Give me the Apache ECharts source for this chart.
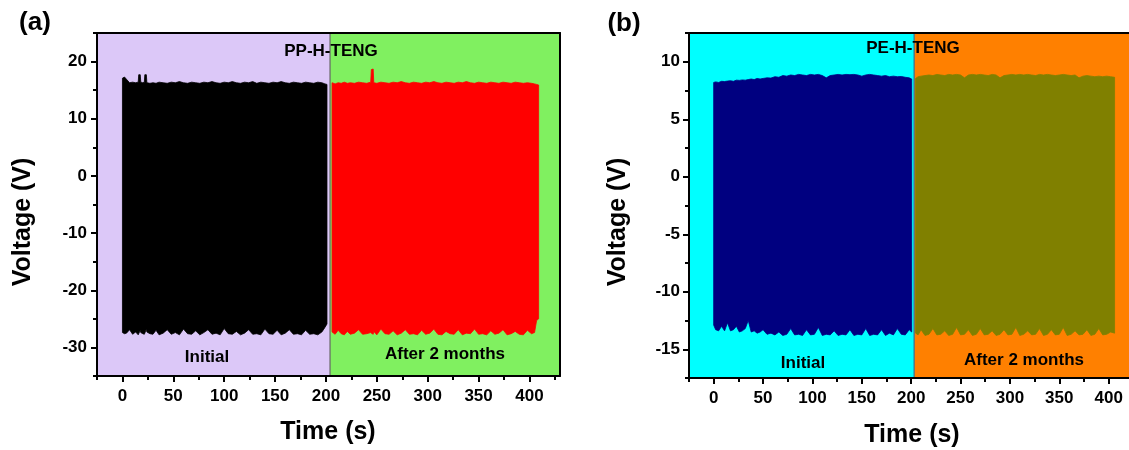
<!DOCTYPE html>
<html><head><meta charset="utf-8">
<script src="https://cdn.jsdelivr.net/npm/echarts@6/dist/echarts.min.js"></script>
<style>html,body{margin:0;padding:0;background:#fff;overflow:hidden}#c{width:1129px;height:450px}</style>
</head><body><div id="c"></div>
<script>
// ---------- data ----------
const xTicks = [0, 50, 100, 150, 200, 250, 300, 350, 400];
const xMinorTicks = [-25, 25, 75, 125, 175, 225, 275, 325, 375, 425];
const yTicksA = [-30, -20, -10, 0, 10, 20];
const yMinorA = [-35, -25, -15, -5, 5, 15, 25];
const yTicksB = [-15, -10, -5, 0, 5, 10];
const yMinorB = [-17.5, -12.5, -7.5, -2.5, 2.5, 7.5, 12.5];
const xRangeA = [-25, 430];
const xRangeB = [-25, 420.6];   // panel (b) is cut at the right edge of the picture
const yRangeA = [-35, 25];
const yRangeB = [-17.5, 12.5];
// phases (time ranges, s)
const phasesA = [[-25, 204], [204, 430]];
const phasesB = [[-25, 203], [203, 420.6]];
const phaseNames = ['Initial', 'After 2 months'];
// signal envelopes: [time (s), lower peak (V), upper peak (V)]
const ppInitial = [
 [0,-27.4,17.1],[2,-27.6,17.3],[4,-27.5,16.9],[7,-26.9,16.3],[10,-27.7,16.4],[13,-27.3,16.3],
 [15.5,-27.8,16.4],[16,-27.6,17.7],[17.5,-27.0,17.7],[18,-27.4,16.4],[20,-27.6,16.3],[21.5,-27.7,16.4],[22,-27.5,17.7],[23.5,-26.8,17.7],[24,-27.3,16.3],
 [27,-27.6,16.2],[30,-27.7,16.3],[33,-27.0,16.2],[36,-27.8,16.4],[40,-27.5,16.3],[44,-26.9,16.2],
 [48,-27.7,16.4],[52,-27.4,16.3],[56,-27.8,16.5],[60,-26.8,16.3],[64,-27.6,16.2],[68,-27.7,16.4],
 [72,-27.1,16.3],[76,-27.8,16.2],[80,-27.4,16.4],[84,-26.9,16.3],[88,-27.7,16.5],[92,-27.5,16.3],
 [96,-27.8,16.2],[100,-26.7,16.4],[104,-27.6,16.3],[108,-27.7,16.5],[112,-27.2,16.3],[116,-27.8,16.2],
 [120,-27.5,16.4],[124,-26.9,16.3],[128,-27.7,16.5],[132,-27.6,16.2],[136,-27.8,16.4],[140,-26.8,16.3],
 [144,-27.6,16.2],[148,-27.7,16.4],[152,-27.0,16.3],[156,-27.8,16.5],[160,-27.5,16.3],[164,-26.9,16.2],
 [168,-27.7,16.4],[172,-27.6,16.3],[176,-27.8,16.2],[180,-27.0,16.4],[184,-27.7,16.3],[188,-27.6,16.2],
 [192,-27.8,16.4],[196,-27.3,16.3],[199,-26.5,16.1],[201,-25.9,16.0]
];
const ppAfter = [
 [206,-27.3,16.3],[209,-27.7,16.1],[212,-27.0,16.3],[215,-27.6,16.2],[218,-27.8,16.4],[221,-27.2,16.2],
 [224,-27.7,16.3],[228,-27.5,16.2],[232,-26.9,16.4],[236,-27.7,16.3],[240,-27.6,16.2],[244,-27.4,16.4],
 [244.6,-27.5,18.6],[246.4,-27.7,18.7],[247,-27.2,16.3],[250,-27.8,16.2],[254,-26.8,16.4],[258,-27.6,16.3],
 [262,-27.7,16.2],[266,-27.1,16.4],[270,-27.8,16.3],[274,-27.5,16.5],[278,-26.9,16.3],[282,-27.7,16.2],
 [286,-27.6,16.4],[290,-27.8,16.3],[294,-27.0,16.2],[298,-27.7,16.4],[302,-27.5,16.3],[306,-26.8,16.5],
 [310,-27.7,16.3],[314,-27.8,16.2],[318,-27.2,16.4],[322,-27.6,16.3],[326,-27.7,16.2],[330,-26.9,16.4],
 [334,-27.8,16.3],[338,-27.5,16.5],[342,-27.6,16.3],[346,-26.8,16.2],[350,-27.7,16.4],[354,-27.6,16.3],
 [358,-27.8,16.2],[362,-27.1,16.4],[366,-27.7,16.3],[370,-27.5,16.2],[374,-26.9,16.4],[378,-27.8,16.3],
 [382,-27.6,16.2],[386,-27.2,16.4],[390,-27.7,16.3],[394,-27.8,16.2],[398,-27.0,16.3],[402,-27.6,16.2],
 [405,-27.4,16.1],[407,-25.3,16.0],[409,-25.0,15.9]
];
const peInitial = [
 [0,-12.9,8.2],[2,-13.3,8.25],[5,-13.4,8.2],[8,-13.0,8.3],[11,-13.4,8.28],[14,-12.7,8.32],[17,-13.4,8.35],
 [20,-13.3,8.3],[23,-13.0,8.4],[26,-13.5,8.38],[29,-13.4,8.42],[32,-13.2,8.4],[35,-12.5,8.45],[38,-13.5,8.5],
 [41,-13.4,8.45],[44,-13.6,8.55],[47,-13.5,8.5],[50,-13.3,8.55],[54,-13.7,8.6],[58,-13.6,8.58],[62,-13.75,8.7],
 [66,-13.5,8.65],[70,-13.8,8.8],[74,-13.7,8.75],[78,-13.2,8.85],[82,-13.75,8.8],[86,-13.7,8.9],[90,-13.8,8.85],
 [94,-13.3,8.8],[98,-13.75,8.9],[102,-13.7,8.85],[106,-13.1,8.9],[110,-13.8,8.8],[114,-13.7,8.6],[118,-13.75,8.8],
 [122,-13.4,8.85],[126,-13.8,8.9],[130,-13.7,8.85],[134,-13.75,8.9],[138,-13.3,8.88],[142,-13.8,8.9],[146,-13.7,8.85],
 [150,-13.75,8.75],[154,-13.2,8.85],[158,-13.8,8.9],[162,-13.7,8.85],[166,-13.75,8.8],[170,-13.3,8.75],[174,-13.8,8.8],
 [178,-13.6,8.7],[182,-13.75,8.75],[186,-13.2,8.7],[190,-13.7,8.72],[194,-13.75,8.65],[198,-13.3,8.6],[200.5,-13.5,8.5]
];
const peAfter = [
 [204.5,-13.6,8.55],[207,-13.75,8.7],[210,-13.3,8.75],[214,-13.8,8.8],[218,-13.7,8.85],[222,-13.2,8.8],
 [226,-13.75,8.9],[230,-13.7,8.85],[234,-13.4,8.8],[238,-13.8,8.9],[242,-13.7,8.85],[246,-13.1,8.9],
 [250,-13.75,8.85],[254,-13.7,8.6],[258,-13.3,8.85],[262,-13.8,8.9],[266,-13.7,8.85],[270,-13.2,8.9],
 [274,-13.75,8.85],[278,-13.7,8.8],[282,-13.4,8.9],[286,-13.8,8.85],[290,-13.7,8.6],[294,-13.3,8.8],
 [298,-13.75,8.85],[302,-13.7,8.9],[306,-13.1,8.85],[310,-13.8,8.9],[314,-13.7,8.85],[318,-13.4,8.9],
 [322,-13.75,8.85],[326,-13.7,8.8],[330,-13.2,8.9],[334,-13.8,8.85],[338,-13.7,8.9],[342,-13.3,8.85],
 [346,-13.75,8.8],[350,-13.7,8.85],[354,-13.1,8.9],[358,-13.8,8.85],[362,-13.7,8.8],[366,-13.4,8.85],
 [370,-13.75,8.6],[374,-13.7,8.75],[378,-13.3,8.8],[382,-13.8,8.75],[386,-13.7,8.7],[390,-13.2,8.75],
 [394,-13.75,8.7],[398,-13.7,8.75],[402,-13.5,8.7],[406,-13.6,8.65]
];

// ---------- chart ----------
const FONT = 'Liberation Sans, Arial, sans-serif';
const chart = echarts.init(document.getElementById('c'), null, {renderer: 'canvas'});

const grids = [
  {left: 97, top: 33, width: 463, height: 343},
  {left: 689, top: 33, width: 440, height: 345}
];

function xAxesFor(gi, range) {
  const base = {gridIndex: gi, type: 'value', min: range[0], max: range[1], splitLine: {show: false}, z: 6};
  return [
    Object.assign({}, base, {
      position: 'bottom',
      axisLine: {show: true, onZero: false, lineStyle: {color: '#000', width: 2}},
      axisTick: {show: true, customValues: xTicks, length: 6, lineStyle: {color: '#000', width: 2}},
      axisLabel: {show: true, customValues: xTicks, margin: 12, color: '#000', fontSize: 17, fontWeight: 'bold', fontFamily: FONT}
    }),
    Object.assign({}, base, {
      position: 'bottom',
      axisLine: {show: false, onZero: false},
      axisTick: {show: true, customValues: xMinorTicks.filter(v => v <= range[1]), length: 4, lineStyle: {color: '#000', width: 2}},
      axisLabel: {show: false}
    }),
    Object.assign({}, base, {
      position: 'top',
      axisLine: {show: true, onZero: false, lineStyle: {color: '#000', width: 2}},
      axisTick: {show: false}, axisLabel: {show: false}
    })
  ];
}
function yAxesFor(gi, range, ticks, minor, margin, showRight) {
  const base = {gridIndex: gi, type: 'value', min: range[0], max: range[1], splitLine: {show: false}, z: 6};
  return [
    Object.assign({}, base, {
      position: 'left',
      axisLine: {show: true, onZero: false, lineStyle: {color: '#000', width: 2}},
      axisTick: {show: true, customValues: ticks, length: 6, lineStyle: {color: '#000', width: 2}},
      axisLabel: {show: true, customValues: ticks, margin: margin, color: '#000', fontSize: 17, fontWeight: 'bold', fontFamily: FONT}
    }),
    Object.assign({}, base, {
      position: 'left',
      axisLine: {show: false, onZero: false},
      axisTick: {show: true, customValues: minor, length: 4, lineStyle: {color: '#000', width: 2}},
      axisLabel: {show: false}
    }),
    Object.assign({}, base, {
      position: 'right',
      axisLine: {show: showRight, onZero: false, lineStyle: {color: '#000', width: 2}},
      axisTick: {show: false}, axisLabel: {show: false}
    })
  ];
}

function phaseSeries(gi, phases, yRange, colors, lineColor) {
  return {
    type: 'custom', xAxisIndex: gi * 3, yAxisIndex: gi * 3, z: 1, silent: true,
    data: phases,
    encode: {x: [0, 1]},
    renderItem: function (params, api) {
      const p0 = api.coord([api.value(0), yRange[1]]);
      const p1 = api.coord([api.value(1), yRange[0]]);
      const children = [{
        type: 'rect',
        shape: {x: p0[0], y: p0[1], width: p1[0] - p0[0], height: p1[1] - p0[1]},
        style: {fill: colors[params.dataIndex]}
      }];
      if (params.dataIndex > 0) {
        children.push({type: 'line', shape: {x1: p0[0], y1: p0[1], x2: p0[0], y2: p1[1]},
          style: {stroke: lineColor, lineWidth: 1.2}});
      }
      return {type: 'group', children: children};
    }
  };
}

function envelopeSeries(gi, rows, color) {
  return {
    type: 'custom', xAxisIndex: gi * 3, yAxisIndex: gi * 3, z: 2, silent: true,
    data: rows,
    encode: {x: 0, y: [1, 2]},
    renderItem: function (params, api) {
      if (params.dataIndexInside !== 0) return null;
      const n = params.dataInsideLength;
      const up = [], down = [];
      for (let j = 0; j < n; j++) {
        const t = api.value(0, j);
        up.push(api.coord([t, api.value(2, j)]));
        down.push(api.coord([t, api.value(1, j)]));
      }
      return {type: 'polygon', shape: {points: up.concat(down.reverse())},
        style: {fill: color, stroke: color, lineWidth: 0.8}};
    }
  };
}

function txt(text, x, y, size, extra) {
  return Object.assign({
    type: 'text', x: x, y: y, z: 100, silent: true,
    style: {text: text, fill: '#000', font: 'bold ' + size + 'px ' + FONT, align: 'center', verticalAlign: 'middle'}
  }, extra || {});
}

const option = {
  animation: false,
  backgroundColor: '#fff',
  grid: grids.map(g => Object.assign({show: false}, g)),
  xAxis: xAxesFor(0, xRangeA).concat(xAxesFor(1, xRangeB)),
  yAxis: yAxesFor(0, yRangeA, yTicksA, yMinorA, 10, true).concat(yAxesFor(1, yRangeB, yTicksB, yMinorB, 9, false)),
  series: [
    phaseSeries(0, phasesA, yRangeA, ['#DCC8F8', '#80F060'], '#666'),
    envelopeSeries(0, ppInitial, '#000000'),
    envelopeSeries(0, ppAfter, '#FF0000'),
    phaseSeries(1, phasesB, yRangeB, ['#00FFFF', '#FF8000'], '#3a6a8a'),
    envelopeSeries(1, peInitial, '#000080'),
    envelopeSeries(1, peAfter, '#808000')
  ],
  graphic: [
    txt('(a)', 35, 23, 26),
    txt('(b)', 624, 24, 26),
    txt('PP-H-TENG', 331, 51, 17),
    txt(phaseNames[0], 207, 357, 17),
    txt(phaseNames[1], 445, 354, 17),
    txt('PE-H-TENG', 913, 48, 17),
    txt(phaseNames[0], 803, 363, 17),
    txt(phaseNames[1], 1024, 360, 17),
    txt('Time (s)', 328, 432, 25),
    txt('Time (s)', 912, 435, 25),
    txt('Voltage (V)', 23, 222, 25, {rotation: Math.PI / 2}),
    txt('Voltage (V)', 618, 222, 25, {rotation: Math.PI / 2})
  ]
};
chart.setOption(option);
</script>
</body></html>
